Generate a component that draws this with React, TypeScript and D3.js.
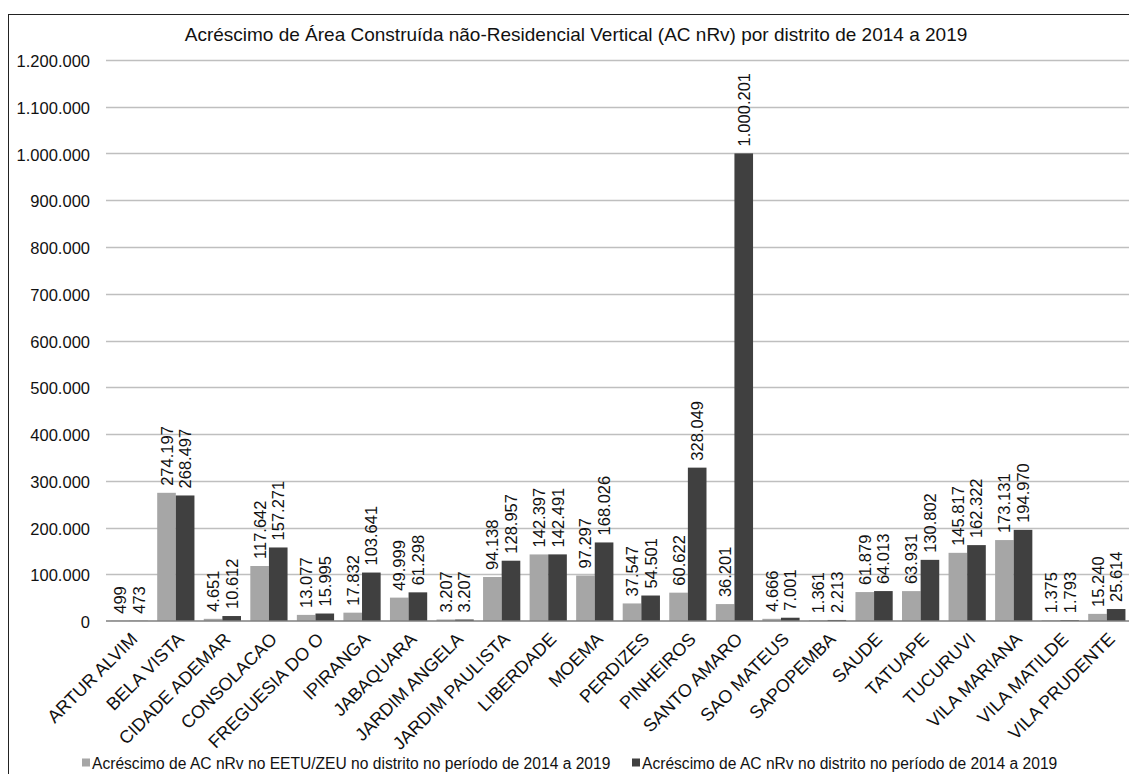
import React, { useRef, useEffect } from "react";
import * as d3 from "d3";

const districts = [
  "ARTUR ALVIM", "BELA VISTA", "CIDADE ADEMAR", "CONSOLACAO", "FREGUESIA DO O",
  "IPIRANGA", "JABAQUARA", "JARDIM ANGELA", "JARDIM PAULISTA", "LIBERDADE",
  "MOEMA", "PERDIZES", "PINHEIROS", "SANTO AMARO", "SAO MATEUS", "SAPOPEMBA",
  "SAUDE", "TATUAPE", "TUCURUVI", "VILA MARIANA", "VILA MATILDE", "VILA PRUDENTE",
];
const acZeu = [
  499, 274197, 4651, 117642, 13077, 17832, 49999, 3207, 94138, 142397, 97297,
  37547, 60622, 36201, 4666, 1361, 61879, 63931, 145817, 173131, 1375, 15240,
];
const acTotal = [
  473, 268497, 10612, 157271, 15995, 103641, 61298, 3207, 128957, 142491, 168026,
  54501, 328049, 1000201, 7001, 2213, 64013, 130802, 162322, 194970, 1793, 25614,
];
const yTicks = d3.range(0, 1200001, 100000);
const seriesNames = [
  "Acréscimo de AC nRv no EETU/ZEU no distrito no período de 2014 a 2019",
  "Acréscimo de AC nRv no distrito no período de 2014 a 2019",
];
const seriesColors = ["#a6a6a6", "#404040"];
const title =
  "Acréscimo de Área Construída não-Residencial Vertical (AC nRv) por distrito de 2014 a 2019";

const W = 1129;
const H = 774;
const FONT = "'Liberation Sans', Arial, sans-serif";

const App: React.FC = () => {
  const svgRef = useRef<SVGSVGElement | null>(null);

  useEffect(() => {
    if (!svgRef.current) return;
    const svg = d3.select(svgRef.current);
    svg.selectAll("*").remove();

    const locale = d3.formatLocale({
      decimal: ",",
      thousands: ".",
      grouping: [3],
      currency: ["R$", ""],
    });
    const fmt = locale.format(",d");

    const x = d3
      .scaleBand<string>()
      .domain(districts)
      .range([106, 106 + 22 * 46.55])
      .paddingInner(0.2)
      .paddingOuter(0.1);
    const x1 = d3
      .scaleBand<number>()
      .domain([0, 1])
      .range([0, x.bandwidth()]);
    const y = d3.scaleLinear().domain([0, 1200000]).range([621, 60]);

    // outer frame
    svg
      .append("rect")
      .attr("x", 8.5)
      .attr("y", 14.5)
      .attr("width", 1200)
      .attr("height", 800)
      .attr("fill", "none")
      .attr("stroke", "#222")
      .attr("stroke-width", 1);

    svg
      .append("text")
      .attr("x", 576)
      .attr("y", 41)
      .attr("text-anchor", "middle")
      .attr("font-size", 19)
      .attr("fill", "#111")
      .text(title);

    // gridlines + y labels
    const grid = svg.append("g");
    grid
      .selectAll("line")
      .data(yTicks.filter((d) => d > 0))
      .enter()
      .append("line")
      .attr("x1", 106)
      .attr("x2", W)
      .attr("y1", (d) => Math.round(y(d)) + 0.5)
      .attr("y2", (d) => Math.round(y(d)) + 0.5)
      .attr("stroke", "#bfbfbf")
      .attr("stroke-width", 1.5);

    grid
      .selectAll("text")
      .data(yTicks)
      .enter()
      .append("text")
      .attr("x", 90)
      .attr("y", (d) => y(d) + 1)
      .attr("text-anchor", "end")
      .attr("dominant-baseline", "central")
      .attr("font-size", 16.5)
      .attr("fill", "#111")
      .text((d) => fmt(d));

    const series = [acZeu, acTotal];

    // bars
    const bars = svg.append("g");
    series.forEach((vals, s) => {
      bars
        .append("g")
        .selectAll("rect")
        .data(vals)
        .enter()
        .append("rect")
        .attr("x", (d, i) => (x(districts[i]) as number) + (x1(s) as number))
        .attr("y", (d) => y(d))
        .attr("width", x1.bandwidth())
        .attr("height", (d) => y(0) - y(d))
        .attr("fill", seriesColors[s]);
    });

    // zero axis
    svg
      .append("line")
      .attr("x1", 106)
      .attr("x2", W)
      .attr("y1", y(0))
      .attr("y2", y(0))
      .attr("stroke", "#7f7f7f")
      .attr("stroke-width", 1.5);

    // value labels
    series.forEach((vals, s) => {
      svg
        .append("g")
        .selectAll("text")
        .data(vals)
        .enter()
        .append("text")
        .attr("transform", (d, i) => {
          const cx =
            (x(districts[i]) as number) + (x1(s) as number) + x1.bandwidth() / 2;
          return `translate(${cx},${y(d) - 7}) rotate(-90)`;
        })
        .attr("text-anchor", "start")
        .attr("dominant-baseline", "central")
        .attr("font-size", 16.5)
        .attr("fill", "#111")
        .text((d) => fmt(d));
    });

    // category labels
    svg
      .append("g")
      .selectAll("text")
      .data(districts)
      .enter()
      .append("text")
      .attr("transform", (d) => {
        const cx = (x(d) as number) + x.bandwidth() / 2;
        return `translate(${cx + 5},${636}) rotate(-45)`;
      })
      .attr("text-anchor", "end")
      .attr("dominant-baseline", "central")
      .attr("font-size", 18)
      .attr("fill", "#111")
      .text((d) => d);

    // legend
    const legendX = [82, 632];
    seriesNames.forEach((name, s) => {
      const g = svg.append("g").attr("transform", `translate(${legendX[s]},763)`);
      g.append("rect")
        .attr("x", 0)
        .attr("y", -4.5)
        .attr("width", 8)
        .attr("height", 8)
        .attr("fill", seriesColors[s]);
      g.append("text")
        .attr("x", 10)
        .attr("y", 0)
        .attr("dominant-baseline", "central")
        .attr("font-size", 15.6)
        .attr("fill", "#111")
        .text(name);
    });
  }, []);

  return (
    <div style={{ position: "absolute", left: 0, top: 0, width: W, height: H, overflow: "hidden", background: "#fff" }}>
      <svg ref={svgRef} width={W} height={H} style={{ display: "block", fontFamily: FONT }} />
    </div>
  );
};

export default App;
